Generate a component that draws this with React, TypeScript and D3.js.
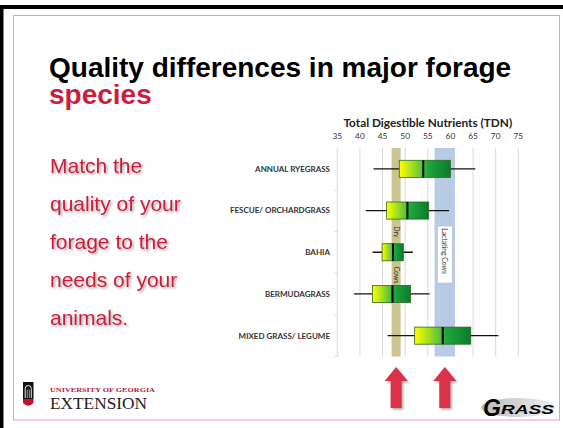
import React from "react";
import * as d3 from "d3";

// TDN box plot values
const categories = ["ANNUAL RYEGRASS", "FESCUE/ ORCHARDGRASS", "BAHIA", "BERMUDAGRASS", "MIXED GRASS/ LEGUME"];
const whiskerLow = [43, 41.3, 42.8, 38.7, 46.1];
const q1 = [48.7, 45.9, 44.9, 42.8, 52.1];
const median = [54, 50.5, 47.3, 47.2, 58.3];
const q3 = [60, 55.2, 49.6, 51.2, 64.5];
const whiskerHigh = [65.5, 59.7, 51.7, 55.4, 70.6];
const tickValues = [35, 40, 45, 50, 55, 60, 65, 70, 75];
const dryCows = [47, 49];
const lactatingCows = [56.5, 61];
const bodyLines = ["Match the", "quality of your", "forage to the", "needs of your", "animals."];

const W = 563, H = 428;
const plot = { left: 337.3, right: 518.3, top: 148, bottom: 356.5 };
const red = "#cc1d3e";

const App = () => {
    const x = d3.scaleLinear().domain([35, 75]).range([plot.left, plot.right]);
    const y = d3.scaleBand<string>()
        .domain(categories)
        .range([plot.top, plot.bottom])
        .paddingInner(0.59)
        .paddingOuter(0.295);
    const step = y.step();
    const bw = y.bandwidth();

    const dryX = (x(dryCows[0]) + x(dryCows[1])) / 2;
    const lacX = (x(lactatingCows[0]) + x(lactatingCows[1])) / 2;

    const arrow = (cx: number) =>
        `M${cx},367 L${cx + 11.5},381 L${cx + 5.5},381 L${cx + 5.5},408 L${cx - 5.5},408 L${cx - 5.5},381 L${cx - 11.5},381 Z`;

    return (
        <svg width={W} height={H} style={{ position: "absolute", left: 0, top: 0, background: "#fff" }}>
            <defs>
                <linearGradient id="boxFill" x1="0" x2="1" y1="0" y2="0">
                    <stop offset="0%" stopColor="#ffff00" />
                    <stop offset="45%" stopColor="#58c43a" />
                    <stop offset="55%" stopColor="#1fa83c" />
                    <stop offset="100%" stopColor="#0b7a2c" />
                </linearGradient>
                <filter id="shadow" x="-10%" y="-10%" width="130%" height="140%">
                    <feDropShadow dx="1.5" dy="1.5" stdDeviation="0.8" floodColor="#666" floodOpacity="0.6" />
                </filter>
                <linearGradient id="swoosh" x1="0" x2="1">
                    <stop offset="0%" stopColor="#bbb" />
                    <stop offset="100%" stopColor="#eee" />
                </linearGradient>
            </defs>

            {/* frame */}
            <rect x={0} y={5} width={W} height={4} fill="#000" />
            <rect x={0} y={5} width={3.5} height={H - 5} fill="#000" />
            <rect x={13.5} y={15.5} width={546} height={404.5} fill="none" stroke="#e9a3a3" strokeWidth={1} />

            {/* title */}
            <text x={49} y={77} fontFamily="Liberation Sans, Arial, sans-serif" fontWeight="bold" fontSize={28} fill="#000">
                Quality differences in major forage
            </text>
            <text x={49} y={104} fontFamily="Liberation Sans, Arial, sans-serif" fontWeight="bold" fontSize={28} fill={red}>
                species
            </text>

            {/* side text */}
            <g filter="url(#shadow)">
                {bodyLines.map((t, i) => (
                    <text key={t} x={50} y={173.3 + i * 38} fontFamily="Liberation Sans, Arial, sans-serif" fontSize={21} fill={red}>
                        {t}
                    </text>
                ))}
            </g>

            {/* chart title and ticks */}
            <text x={(plot.left + plot.right) / 2} y={126.7} textAnchor="middle" fontFamily="Lato, sans-serif" fontWeight="bold" fontSize={11.8} fill="#222">
                Total Digestible Nutrients (TDN)
            </text>
            {tickValues.map(t => (
                <g key={t}>
                    <text x={x(t)} y={138.5} textAnchor="middle" fontFamily="Lato, sans-serif" fontSize={8.3} fill="#333">{t}</text>
                    <line x1={x(t)} x2={x(t)} y1={plot.top} y2={plot.bottom} stroke="#d9d9d9" strokeWidth={1} />
                </g>
            ))}
            {categories.map((c, i) => (
                <line key={c} x1={plot.left - 3} x2={plot.left} y1={plot.top + step * (i + 1)} y2={plot.top + step * (i + 1)} stroke="#d9d9d9" />
            ))}

            {/* requirement bands */}
            <rect x={x(dryCows[0])} width={x(dryCows[1]) - x(dryCows[0])} y={plot.top} height={plot.bottom - plot.top} fill="#cbc592" />
            <rect x={x(lactatingCows[0])} width={x(lactatingCows[1]) - x(lactatingCows[0])} y={plot.top} height={plot.bottom - plot.top} fill="#b7cbe6" />
            <text transform={`translate(${dryX - 2.3},232) rotate(90)`} textAnchor="middle" fontFamily="Lato, sans-serif" fontSize={7} fill="#333">Dry</text>
            <text transform={`translate(${dryX - 2.3},275) rotate(90)`} textAnchor="middle" fontFamily="Lato, sans-serif" fontSize={7} fill="#333">Cows</text>
            <rect x={lacX - 7.5} y={226} width={15} height={57} fill="#fff" stroke="#bbb" strokeWidth={0.6} />
            <text transform={`translate(${lacX - 2.3},251) rotate(90)`} textAnchor="middle" fontFamily="Lato, sans-serif" fontSize={6.8} fill="#333">Lactating Cows</text>

            {/* boxes */}
            {categories.map((c, i) => {
                const top = y(c) as number;
                const cy = top + bw / 2;
                return (
                    <g key={c}>
                        <text x={330} y={cy + 2.9} textAnchor="end" fontFamily="Lato, sans-serif" fontWeight="bold" fontSize={8} fill="#333">{c}</text>
                        <line x1={x(whiskerLow[i])} x2={x(whiskerHigh[i])} y1={cy} y2={cy} stroke="#111" strokeWidth={1.3} />
                        <rect x={x(q1[i])} width={x(q3[i]) - x(q1[i])} y={top} height={bw} fill="url(#boxFill)" stroke="#2d6b22" strokeWidth={0.8} />
                        <line x1={x(median[i])} x2={x(median[i])} y1={top} y2={top + bw} stroke="#000" strokeWidth={2} />
                    </g>
                );
            })}

            {/* arrows */}
            <g filter="url(#shadow)">
                <path d={arrow(dryX)} fill="#d93049" />
                <path d={arrow(lacX)} fill="#d93049" />
            </g>

            {/* UGA Extension logo */}
            <rect x={23} y={382} width={10.5} height={17} fill="#111" />
            <path d="M25.2,398 L25.2,388.5 A3,3 0 0 1 31.3,388.5 L31.3,398" fill="none" stroke="#fff" strokeWidth={0.9} />
            <line x1={27.2} x2={27.2} y1={389.5} y2={398} stroke="#fff" strokeWidth={0.6} />
            <line x1={29.3} x2={29.3} y1={389.5} y2={398} stroke="#fff" strokeWidth={0.6} />
            <path d="M23,399 L33.5,399 L33.5,403 Q28.2,408.5 23,403 Z" fill="#c8102e" />
            <text x={50} y={391.5} fontFamily="Liberation Serif, serif" fontWeight="bold" fontSize={6.6} fill="#b5203a" textLength={105} lengthAdjust="spacingAndGlyphs">
                UNIVERSITY OF GEORGIA
            </text>
            <text x={50} y={408.5} fontFamily="Liberation Serif, serif" fontSize={16} fill="#222" textLength={97} lengthAdjust="spacingAndGlyphs">
                EXTENSION
            </text>

            {/* GRASS logo */}
            <ellipse cx={518} cy={407.5} rx={37} ry={9.5} fill="url(#swoosh)" />
            <text x={483} y={416} fontFamily="Liberation Sans, Arial, sans-serif" fontWeight="bold" fontStyle="italic" fontSize={23} fill="#000">G</text>
            <text x={501} y={414} fontFamily="Liberation Sans, Arial, sans-serif" fontWeight="bold" fontStyle="italic" fontSize={13} fill="#000" textLength={53} lengthAdjust="spacingAndGlyphs">RASS</text>
        </svg>
    );
};

export default App;
